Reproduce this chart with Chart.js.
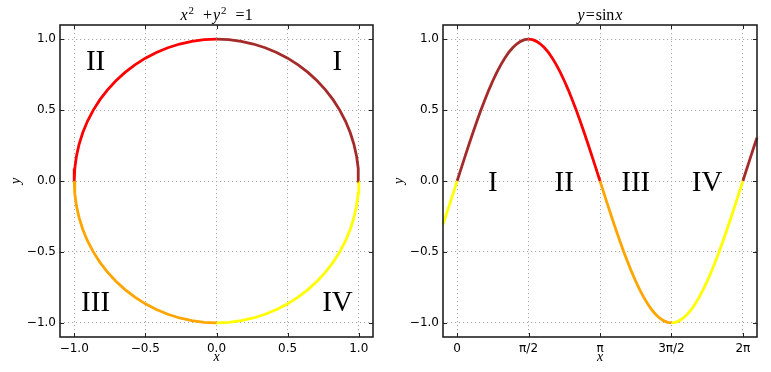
<!DOCTYPE html>
<html><head><meta charset="utf-8">
<script src="https://cdn.jsdelivr.net/npm/chart.js@4"></script>
<style>
html,body{margin:0;padding:0;background:#fff;width:771px;height:372px;overflow:hidden}
#c1{position:absolute;left:0;top:0}
#c2{position:absolute;left:385px;top:0}
</style></head><body>
<canvas id="c1" width="385" height="372"></canvas>
<canvas id="c2" width="386" height="372"></canvas>
<script>
// ---------- data: unit circle, one array pair per quadrant ----------
const circleQ1X = [1, 0.9962, 0.9848, 0.9659, 0.9397, 0.9063, 0.8660, 0.8192, 0.7660, 0.7071, 0.6428, 0.5736, 0.5, 0.4226, 0.3420, 0.2588, 0.1736, 0.0872, 0];
const circleQ1Y = [0, 0.0872, 0.1736, 0.2588, 0.3420, 0.4226, 0.5, 0.5736, 0.6428, 0.7071, 0.7660, 0.8192, 0.8660, 0.9063, 0.9397, 0.9659, 0.9848, 0.9962, 1];
const circleQ2X = [0, -0.0872, -0.1736, -0.2588, -0.3420, -0.4226, -0.5, -0.5736, -0.6428, -0.7071, -0.7660, -0.8192, -0.8660, -0.9063, -0.9397, -0.9659, -0.9848, -0.9962, -1];
const circleQ2Y = [1, 0.9962, 0.9848, 0.9659, 0.9397, 0.9063, 0.8660, 0.8192, 0.7660, 0.7071, 0.6428, 0.5736, 0.5, 0.4226, 0.3420, 0.2588, 0.1736, 0.0872, 0];
const circleQ3X = [-1, -0.9962, -0.9848, -0.9659, -0.9397, -0.9063, -0.8660, -0.8192, -0.7660, -0.7071, -0.6428, -0.5736, -0.5, -0.4226, -0.3420, -0.2588, -0.1736, -0.0872, 0];
const circleQ3Y = [0, -0.0872, -0.1736, -0.2588, -0.3420, -0.4226, -0.5, -0.5736, -0.6428, -0.7071, -0.7660, -0.8192, -0.8660, -0.9063, -0.9397, -0.9659, -0.9848, -0.9962, -1];
const circleQ4X = [0, 0.0872, 0.1736, 0.2588, 0.3420, 0.4226, 0.5, 0.5736, 0.6428, 0.7071, 0.7660, 0.8192, 0.8660, 0.9063, 0.9397, 0.9659, 0.9848, 0.9962, 1];
const circleQ4Y = [-1, -0.9962, -0.9848, -0.9659, -0.9397, -0.9063, -0.8660, -0.8192, -0.7660, -0.7071, -0.6428, -0.5736, -0.5, -0.4226, -0.3420, -0.2588, -0.1736, -0.0872, 0];

// ---------- data: y = sin x, x in degrees ----------
const sinLeadX = [-17.8, -15, -10, -5, 0];
const sinLeadY = [-0.3057, -0.2588, -0.1736, -0.0872, 0];
const sinQ1X = [0, 5, 10, 15, 20, 25, 30, 35, 40, 45, 50, 55, 60, 65, 70, 75, 80, 85, 90];
const sinQ1Y = [0, 0.0872, 0.1736, 0.2588, 0.3420, 0.4226, 0.5, 0.5736, 0.6428, 0.7071, 0.7660, 0.8192, 0.8660, 0.9063, 0.9397, 0.9659, 0.9848, 0.9962, 1];
const sinQ2X = [90, 95, 100, 105, 110, 115, 120, 125, 130, 135, 140, 145, 150, 155, 160, 165, 170, 175, 180];
const sinQ2Y = [1, 0.9962, 0.9848, 0.9659, 0.9397, 0.9063, 0.8660, 0.8192, 0.7660, 0.7071, 0.6428, 0.5736, 0.5, 0.4226, 0.3420, 0.2588, 0.1736, 0.0872, 0];
const sinQ3X = [180, 185, 190, 195, 200, 205, 210, 215, 220, 225, 230, 235, 240, 245, 250, 255, 260, 265, 270];
const sinQ3Y = [0, -0.0872, -0.1736, -0.2588, -0.3420, -0.4226, -0.5, -0.5736, -0.6428, -0.7071, -0.7660, -0.8192, -0.8660, -0.9063, -0.9397, -0.9659, -0.9848, -0.9962, -1];
const sinQ4X = [270, 275, 280, 285, 290, 295, 300, 305, 310, 315, 320, 325, 330, 335, 340, 345, 350, 355, 360];
const sinQ4Y = [-1, -0.9962, -0.9848, -0.9659, -0.9397, -0.9063, -0.8660, -0.8192, -0.7660, -0.7071, -0.6428, -0.5736, -0.5, -0.4226, -0.3420, -0.2588, -0.1736, -0.0872, 0];
const sinTailX = [360, 365, 370, 375, 377.8];
const sinTailY = [0, 0.0872, 0.1736, 0.2588, 0.3057];

// ---------- ticks and labels ----------
const circleTicks = [-1, -0.5, 0, 0.5, 1];
const sinXTicks = [0, 90, 180, 270, 360];
const sinXTickLabels = ['0', 'π/2', 'π', '3π/2', '2π'];
const sinYTicks = [-1, -0.5, 0, 0.5, 1];
const quadrantNames = ['I', 'II', 'III', 'IV'];
const circleLabelX = [0.85, -0.85, -0.85, 0.85];
const circleLabelY = [0.85, 0.85, -0.85, -0.85];
const sinLabelX = [45, 135, 225, 315];
const sinLabelY = [0, 0, 0, 0];

const C_I = '#a52a2a', C_II = '#ff0000', C_III = '#ffa500', C_IV = '#ffff00';

function pts(xs, ys) { return xs.map((x, i) => ({ x: x, y: ys[i] })); }
function fmt(v) { return (Math.round(v * 10) / 10).toFixed(1).replace('-', '\u2212'); }
function line(xs, ys, color) {
  return { data: pts(xs, ys), showLine: true, borderColor: color, backgroundColor: color,
           borderWidth: 2.8, pointRadius: 0, tension: 0, fill: false, clip: 2 };
}

const TICKFONT = { family: '"DejaVu Sans", sans-serif', size: 12 };
const GRIDC = '#a8a8a8';
function xScale(min, max, ticks, labels, h) {
  return {
    type: 'linear', min: min, max: max,
    afterBuildTicks: s => { s.ticks = ticks.map(v => ({ value: v })); },
    afterFit: s => { s.height = h; },
    ticks: { callback: (v, i) => labels ? labels[i] : fmt(v), font: TICKFONT, color: '#000',
             padding: 5, maxRotation: 0, autoSkip: false },
    grid: { color: GRIDC, lineWidth: 1, drawTicks: false },
    border: { display: false, dash: [1.2, 2.8] }
  };
}
function yScale(min, max, ticks, w) {
  return {
    type: 'linear', min: min, max: max,
    afterBuildTicks: s => { s.ticks = ticks.map(v => ({ value: v })); },
    afterFit: s => { s.width = w; },
    ticks: { callback: v => fmt(v), font: TICKFONT, color: '#000', padding: 4, autoSkip: false },
    grid: { color: GRIDC, lineWidth: 1, drawTicks: false },
    border: { display: false, dash: [1.2, 2.8] }
  };
}

function drawRich(ctx, pieces, cx, by) {
  let total = 0;
  pieces.forEach(p => { ctx.font = p.font; p.w = ctx.measureText(p.t).width; total += p.w + (p.gap || 0); });
  let x = cx - total / 2;
  ctx.textAlign = 'left'; ctx.textBaseline = 'alphabetic';
  pieces.forEach(p => { x += p.gap || 0; ctx.font = p.font; ctx.fillText(p.t, x, by - (p.rise || 0)); x += p.w; });
}

const IT = 'italic 16px "Liberation Serif", serif';
const RM = '16px "Liberation Serif", serif';
const SUP = '11px "Liberation Serif", serif';
const AXF = 'italic 14px "Liberation Serif", serif';
const NUMF = '29px "Liberation Serif", serif';

const decor = {
  id: 'decor',
  afterDatasetsDraw(chart, args, o) {
    const ctx = chart.ctx, a = chart.chartArea, sx = chart.scales.x, sy = chart.scales.y;
    ctx.save();
    ctx.strokeStyle = '#222'; ctx.lineWidth = 1;
    sx.ticks.forEach(t => {
      const p = Math.round(sx.getPixelForValue(t.value)) + 0.5;
      ctx.beginPath(); ctx.moveTo(p, a.bottom); ctx.lineTo(p, a.bottom - 4);
      ctx.moveTo(p, a.top); ctx.lineTo(p, a.top + 4); ctx.stroke();
    });
    sy.ticks.forEach(t => {
      const p = Math.round(sy.getPixelForValue(t.value)) + 0.5;
      ctx.beginPath(); ctx.moveTo(a.left, p); ctx.lineTo(a.left + 4, p);
      ctx.moveTo(a.right, p); ctx.lineTo(a.right - 4, p); ctx.stroke();
    });
    ctx.lineWidth = 1.6; ctx.strokeStyle = '#222';
    ctx.strokeRect(a.left, a.top, a.right - a.left, a.bottom - a.top);
    // quadrant numerals
    ctx.fillStyle = '#000'; ctx.font = NUMF; ctx.textAlign = 'center'; ctx.textBaseline = 'alphabetic';
    const capH = ctx.measureText('I').actualBoundingBoxAscent;
    o.names.forEach((n, i) => {
      ctx.fillText(n, sx.getPixelForValue(o.lx[i]), sy.getPixelForValue(o.ly[i]) + capH / 2);
    });
    // title
    const cx = (a.left + a.right) / 2, cy = (a.top + a.bottom) / 2;
    drawRich(ctx, o.title, cx, 19.5);
    // axis labels
    ctx.font = AXF; ctx.textAlign = 'center'; ctx.textBaseline = 'middle';
    ctx.fillText('x', cx, 357);
    ctx.translate(o.ylabelX, cy); ctx.rotate(-Math.PI / 2);
    ctx.fillText('y', 0, 0);
    ctx.restore();
  }
};

new Chart(document.getElementById('c1'), {
  type: 'scatter',
  data: { datasets: [
    line(circleQ1X, circleQ1Y, C_I), line(circleQ2X, circleQ2Y, C_II),
    line(circleQ3X, circleQ3Y, C_III), line(circleQ4X, circleQ4Y, C_IV)
  ] },
  options: {
    responsive: false, animation: false, devicePixelRatio: 1,
    layout: { padding: { left: 0, top: 25, right: 12, bottom: 0 } },
    scales: { x: xScale(-1.1, 1.1, circleTicks, null, 35), y: yScale(-1.1, 1.1, circleTicks, 60) },
    plugins: { legend: { display: false }, tooltip: { enabled: false },
      decor: { names: quadrantNames, lx: circleLabelX, ly: circleLabelY, ylabelX: 16,
        title: [ { t: 'x', font: IT }, { t: '2', font: SUP, rise: 6, gap: 1 }, { t: '+', font: RM, gap: 9 },
                 { t: 'y', font: IT, gap: 1 }, { t: '2', font: SUP, rise: 6, gap: 1 }, { t: '=1', font: RM, gap: 9 } ] } }
  },
  plugins: [decor]
});

new Chart(document.getElementById('c2'), {
  type: 'scatter',
  data: { datasets: [
    line(sinLeadX, sinLeadY, C_IV), line(sinQ1X, sinQ1Y, C_I), line(sinQ2X, sinQ2Y, C_II),
    line(sinQ3X, sinQ3Y, C_III), line(sinQ4X, sinQ4Y, C_IV), line(sinTailX, sinTailY, C_I)
  ] },
  options: {
    responsive: false, animation: false, devicePixelRatio: 1,
    layout: { padding: { left: 0, top: 25, right: 14, bottom: 0 } },
    scales: { x: xScale(-17.8, 377.8, sinXTicks, sinXTickLabels, 35), y: yScale(-1.1, 1.1, sinYTicks, 58) },
    plugins: { legend: { display: false }, tooltip: { enabled: false },
      decor: { names: quadrantNames, lx: sinLabelX, ly: sinLabelY, ylabelX: 14.5,
        title: [ { t: 'y', font: IT }, { t: '=', font: RM, gap: 1 }, { t: 'sin', font: RM, gap: 1 }, { t: 'x', font: IT, gap: 1 } ] } }
  },
  plugins: [decor]
});
</script>
</body></html>
